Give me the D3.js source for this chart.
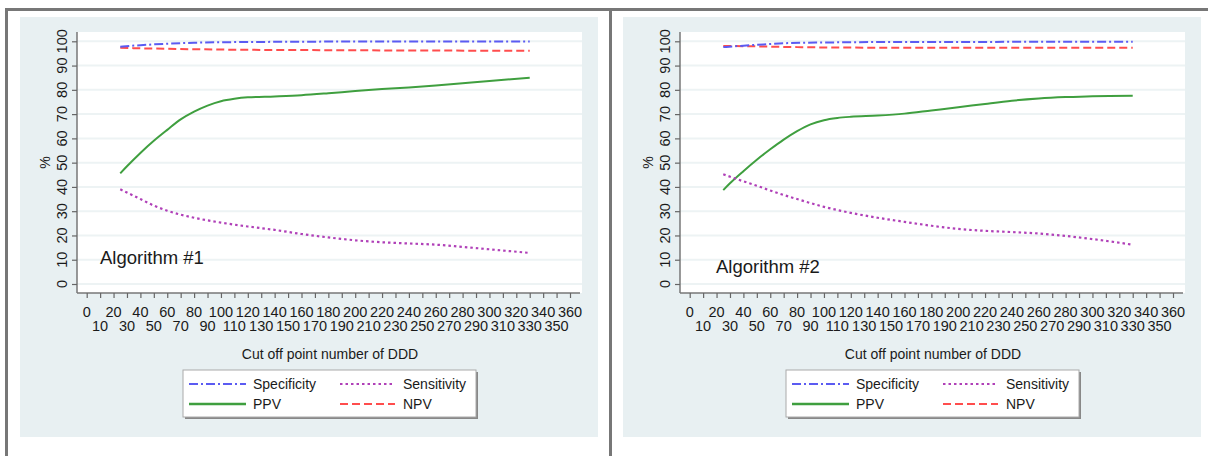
<!DOCTYPE html>
<html><head><meta charset="utf-8">
<script src="https://cdn.jsdelivr.net/npm/d3@7"></script>
<style>
html,body{margin:0;padding:0;background:#fff;}
svg text{font-family:"Liberation Sans",Arial,sans-serif;fill:#1a1a1a;}
</style></head>
<body>
<svg id="c" width="1208" height="456"></svg>
<script>
// ---------- data ----------
const xTicks = d3.range(0, 361, 10);
const yTicks = [0,10,20,30,40,50,60,70,80,90,100];
const seriesNames = ["Specificity","Sensitivity","PPV","NPV"];
const panelLabels = ["Algorithm #1","Algorithm #2"];
const xTitle = "Cut off point number of DDD";
const yTitle = "%";

// Algorithm #1
const spec1 = [[25,97.8],[40,98.4],[60,99.0],[80,99.4],[100,99.6],[150,99.8],[200,99.9],[330,99.9]];
const npv1  = [[25,97.3],[60,96.9],[100,96.6],[200,96.3],[330,96.1]];
const ppv1  = [[25,45.6],[30,48.5],[40,54],[50,59],[60,63.5],[70,67.8],[80,71.0],[90,73.5],[100,75.3],[110,76.3],[120,76.9],[140,77.3],[160,77.8],[180,78.6],[200,79.5],[220,80.3],[240,81.0],[260,81.8],[280,82.7],[300,83.6],[330,85.0]];
const sens1 = [[25,39.0],[40,35],[50,32.3],[60,30.2],[80,27.3],[100,25.3],[120,23.7],[140,22.3],[160,20.6],[180,19.2],[200,18.0],[220,17.2],[240,16.7],[260,16.2],[280,15.3],[300,14.3],[330,12.8]];

// Algorithm #2
const spec2 = [[25,97.6],[40,98.2],[55,98.7],[70,99.2],[100,99.5],[150,99.7],[330,99.8]];
const npv2  = [[25,98.1],[50,97.9],[80,97.6],[120,97.4],[330,97.3]];
const ppv2  = [[25,38.7],[30,41.5],[40,46.5],[50,51.2],[60,55.5],[70,59.5],[80,63.0],[90,65.8],[100,67.5],[110,68.4],[120,68.9],[140,69.4],[160,70.2],[180,71.5],[200,72.8],[220,74.2],[240,75.5],[260,76.4],[280,77.0],[300,77.4],[330,77.6]];
const sens2 = [[25,45.2],[40,42.3],[50,40.5],[60,38.5],[80,35.0],[100,31.8],[120,29.3],[140,27.3],[160,25.6],[180,24.0],[200,22.7],[220,21.9],[240,21.4],[260,20.8],[280,19.8],[300,18.5],[330,16.2]];

// ---------- styles ----------
const styles = {
  Specificity:{color:"#5b5bf2", dash:"9,3,2,3", width:2},
  Sensitivity:{color:"#b040b8", dash:"2.5,3", width:2.2},
  PPV:{color:"#3f9f3f", dash:null, width:2},
  NPV:{color:"#ff4d4d", dash:"8,4", width:2}
};

const svg = d3.select("#c");

// outer table borders
svg.append("line").attr("x1",5).attr("x2",1208).attr("y1",9.5).attr("y2",9.5).attr("stroke","#777").attr("stroke-width",3);
svg.append("line").attr("x1",6.5).attr("x2",6.5).attr("y1",8).attr("y2",456).attr("stroke","#777").attr("stroke-width",3);
svg.append("line").attr("x1",610.5).attr("x2",610.5).attr("y1",8).attr("y2",456).attr("stroke","#777").attr("stroke-width",3);

function drawPanel(dx, data, label, labelPos){
  const g = svg.append("g").attr("transform",`translate(${dx},0)`);
  g.append("rect").attr("x",20).attr("y",17).attr("width",578).attr("height",420).attr("fill","#e8f0f2");
  g.append("rect").attr("x",77).attr("y",32).attr("width",505).attr("height",261).attr("fill","#fff");

  const x = d3.scaleLinear().domain([0,360]).range([86.7,570]);
  const y = d3.scaleLinear().domain([0,100]).range([284,41.3]);

  g.append("g").selectAll("line").data(yTicks).join("line")
    .attr("x1",77).attr("x2",582).attr("y1",d=>y(d)).attr("y2",d=>y(d))
    .attr("stroke","#edf3f4").attr("stroke-width",2);

  const ya = g.append("g").attr("transform","translate(77,0)")
    .call(d3.axisLeft(y).tickValues(yTicks).tickSize(5).tickFormat(""));
  ya.select(".domain").attr("d","M0,32V293").attr("stroke","#777").attr("stroke-width",1.5);
  ya.selectAll(".tick line").attr("stroke","#666").attr("stroke-width",1.2);
  g.append("g").selectAll("text").data(yTicks).join("text")
    .attr("transform",d=>`translate(67,${y(d)}) rotate(-90)`)
    .attr("text-anchor","middle").attr("font-size",14.5).text(d=>d);
  g.append("text").attr("transform",`translate(50,${y(50)}) rotate(-90)`)
    .attr("text-anchor","middle").attr("font-size",14).text(yTitle);

  const xa = g.append("g").attr("transform","translate(0,293)")
    .call(d3.axisBottom(x).tickValues(xTicks).tickSize(5).tickFormat(""));
  xa.select(".domain").attr("d","M77,0H580").attr("stroke","#777").attr("stroke-width",1.5);
  xa.selectAll(".tick line").attr("stroke","#666").attr("stroke-width",1.2);
  g.append("g").selectAll("text").data(xTicks).join("text")
    .attr("x",d=>x(d)).attr("y",d=> (d/10)%2===0 ? 316.5 : 330.5)
    .attr("text-anchor","middle").attr("font-size",14.5).text(d=>d);
  g.append("text").attr("x",330).attr("y",358.5).attr("text-anchor","middle")
    .attr("font-size",14).text(xTitle);

  const line = d3.line().x(d=>x(d[0])).y(d=>y(d[1])).curve(d3.curveMonotoneX);
  ["PPV","Sensitivity","NPV","Specificity"].forEach(name=>{
    const s = styles[name];
    g.append("path").datum(data[name]).attr("d",line)
      .attr("fill","none").attr("stroke",s.color).attr("stroke-width",s.width)
      .attr("stroke-dasharray",s.dash);
  });

  g.append("text").attr("x",labelPos[0]).attr("y",labelPos[1]).attr("font-size",18.5).attr("fill","#111").text(label);

  g.append("rect").attr("x",185).attr("y",372).attr("width",293).attr("height",47).attr("fill","#888");
  g.append("rect").attr("x",183).attr("y",370).attr("width",293).attr("height",47).attr("fill","#fff").attr("stroke","#aaa").attr("stroke-width",1);
  const items = [
    {name:"Specificity", sx:189, ex:246, tx:253, ty:384},
    {name:"Sensitivity", sx:340, ex:395, tx:403, ty:384},
    {name:"PPV", sx:189, ex:246, tx:253, ty:404},
    {name:"NPV", sx:340, ex:395, tx:403, ty:404}
  ];
  items.forEach(it=>{
    const s = styles[it.name];
    g.append("line").attr("x1",it.sx).attr("x2",it.ex).attr("y1",it.ty).attr("y2",it.ty)
      .attr("stroke",s.color).attr("stroke-width",it.name==="PPV"?2.5:s.width).attr("stroke-dasharray",s.dash);
    g.append("text").attr("x",it.tx).attr("y",it.ty+5).attr("font-size",14).text(it.name);
  });
}

drawPanel(0, {Specificity:spec1, Sensitivity:sens1, PPV:ppv1, NPV:npv1}, panelLabels[0], [100,263.5]);
drawPanel(603, {Specificity:spec2, Sensitivity:sens2, PPV:ppv2, NPV:npv2}, panelLabels[1], [113,273]);
</script>
</body></html>
